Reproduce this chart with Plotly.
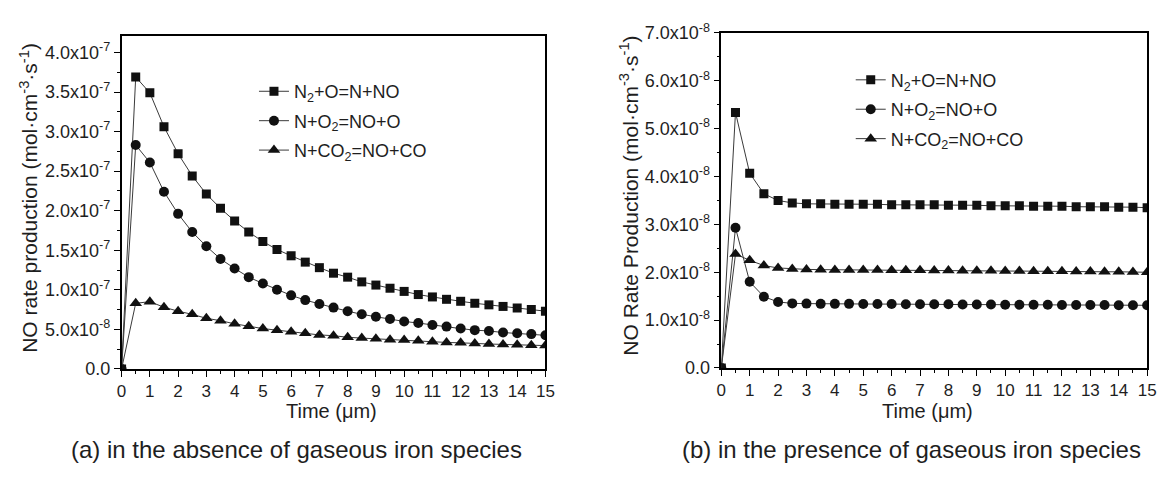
import plotly.graph_objects as go

# ---------------- data ----------------
time_um = [0, 0.5, 1, 1.5, 2, 2.5, 3, 3.5, 4, 4.5, 5, 5.5, 6, 6.5, 7, 7.5,
           8, 8.5, 9, 9.5, 10, 10.5, 11, 11.5, 12, 12.5, 13, 13.5, 14, 14.5, 15]

# (a) absence of gaseous iron species, units 1e-7 mol cm^-3 s^-1
a_n2_o = [0, 3.69, 3.49, 3.06, 2.72, 2.44, 2.21, 2.03, 1.87, 1.73, 1.61, 1.51,
          1.43, 1.35, 1.28, 1.21, 1.16, 1.10, 1.06, 1.02, 0.98, 0.94, 0.91,
          0.88, 0.855, 0.83, 0.81, 0.79, 0.77, 0.75, 0.73]
a_n_o2 = [0, 2.83, 2.61, 2.24, 1.96, 1.73, 1.55, 1.39, 1.27, 1.16, 1.08, 1.00,
          0.93, 0.87, 0.82, 0.775, 0.73, 0.69, 0.66, 0.63, 0.60, 0.58, 0.555,
          0.535, 0.51, 0.49, 0.48, 0.46, 0.45, 0.44, 0.425]
a_n_co2 = [0, 0.83, 0.85, 0.78, 0.73, 0.69, 0.64, 0.61, 0.57, 0.54, 0.51, 0.49,
           0.47, 0.45, 0.43, 0.42, 0.40, 0.39, 0.38, 0.37, 0.365, 0.355, 0.345,
           0.335, 0.33, 0.32, 0.315, 0.31, 0.305, 0.30, 0.295]

# (b) presence of gaseous iron species, units 1e-8 mol cm^-3 s^-1
b_n2_o = [0, 5.34, 4.07, 3.64, 3.50, 3.45, 3.43, 3.43, 3.42, 3.42, 3.42, 3.42,
          3.41, 3.41, 3.41, 3.41, 3.40, 3.40, 3.40, 3.39, 3.39, 3.39, 3.38,
          3.38, 3.38, 3.37, 3.37, 3.37, 3.36, 3.36, 3.35]
b_n_o2 = [0, 2.93, 1.80, 1.49, 1.38, 1.35, 1.345, 1.34, 1.34, 1.34, 1.335,
          1.335, 1.335, 1.33, 1.33, 1.33, 1.33, 1.325, 1.325, 1.325, 1.32,
          1.32, 1.32, 1.32, 1.315, 1.315, 1.315, 1.315, 1.31, 1.31, 1.31]
b_n_co2 = [0, 2.38, 2.25, 2.14, 2.09, 2.07, 2.06, 2.055, 2.05, 2.05, 2.045,
           2.045, 2.04, 2.04, 2.04, 2.035, 2.035, 2.03, 2.03, 2.03, 2.025,
           2.025, 2.02, 2.02, 2.02, 2.015, 2.015, 2.01, 2.01, 2.005, 2.00]

series_names = ["N<sub>2</sub>+O=N+NO", "N+O<sub>2</sub>=NO+O",
                "N+CO<sub>2</sub>=NO+CO"]
symbols = ["square", "circle", "triangle-up"]
symbol_sizes = [9, 10, 11]

a_ticks = [0, 0.5e-7, 1.0e-7, 1.5e-7, 2.0e-7, 2.5e-7, 3.0e-7, 3.5e-7, 4.0e-7]
a_ticktext = ["0.0", "5.0x10<sup>-8</sup>", "1.0x10<sup>-7</sup>",
              "1.5x10<sup>-7</sup>", "2.0x10<sup>-7</sup>",
              "2.5x10<sup>-7</sup>", "3.0x10<sup>-7</sup>",
              "3.5x10<sup>-7</sup>", "4.0x10<sup>-7</sup>"]
b_ticks = [0, 1e-8, 2e-8, 3e-8, 4e-8, 5e-8, 6e-8, 7e-8]
b_ticktext = ["0.0", "1.0x10<sup>-8</sup>", "2.0x10<sup>-8</sup>",
              "3.0x10<sup>-8</sup>", "4.0x10<sup>-8</sup>",
              "5.0x10<sup>-8</sup>", "6.0x10<sup>-8</sup>",
              "7.0x10<sup>-8</sup>"]
x_ticks = list(range(0, 16))

W, H = 1167, 482
FONT = "Liberation Sans, Arial, sans-serif"
TXT = "#1e1e1e"

fig = go.Figure()

for i, (name, vals, sym, sz) in enumerate(zip(series_names,
                                              [a_n2_o, a_n_o2, a_n_co2],
                                              symbols, symbol_sizes)):
    fig.add_trace(go.Scatter(
        x=time_um, y=[v * 1e-7 for v in vals], name=name, mode="lines+markers",
        line=dict(color="#3a3a3a", width=1),
        marker=dict(symbol=sym, size=sz, color="#111111"),
        legendgroup=f"a{i}",
        xaxis="x", yaxis="y", legend="legend"))

for i, (name, vals, sym, sz) in enumerate(zip(series_names,
                                              [b_n2_o, b_n_o2, b_n_co2],
                                              symbols, symbol_sizes)):
    fig.add_trace(go.Scatter(
        x=time_um, y=[v * 1e-8 for v in vals], name=name, mode="lines+markers",
        line=dict(color="#3a3a3a", width=1),
        marker=dict(symbol=sym, size=sz, color="#111111"),
        legendgroup=f"b{i}",
        xaxis="x2", yaxis="y2", legend="legend2"))


def px(x):
    return x / W


def py(y):
    return (H - y) / H


axis_common = dict(showline=True, linecolor="black", linewidth=1.5,
                   mirror=True, showgrid=False, zeroline=False,
                   ticks="outside", ticklen=6, tickwidth=1.2,
                   tickcolor="black",
                   tickfont=dict(family=FONT, size=18, color=TXT))

xa = dict(axis_common, range=[0, 15], tickvals=x_ticks,
          tickfont=dict(family=FONT, size=17, color=TXT),
          minor=dict(ticks="outside", ticklen=3, dtick=0.5, tickwidth=1.2,
                     tickcolor="black"))

legend_common = dict(xanchor="left", yanchor="top", bgcolor="rgba(0,0,0,0)",
                     tracegroupgap=3,
                     font=dict(family=FONT, size=18, color=TXT))

fig.update_layout(
    width=W, height=H,
    margin=dict(l=0, r=0, t=0, b=0),
    paper_bgcolor="white", plot_bgcolor="white",
    font=dict(family=FONT, color=TXT),
    xaxis=dict(xa, domain=[px(118), px(547)], anchor="y"),
    yaxis=dict(axis_common, domain=[py(374), py(25)], anchor="x",
               range=[0, 4.21e-7], tickvals=a_ticks, ticktext=a_ticktext,
               minor=dict(ticks="outside", ticklen=3, dtick=0.25e-7,
                          tickwidth=1.2, tickcolor="black")),
    xaxis2=dict(xa, domain=[px(725), px(1156)], anchor="y2"),
    yaxis2=dict(axis_common, domain=[py(373), py(22)], anchor="x2",
                range=[0, 7e-8], tickvals=b_ticks, ticktext=b_ticktext,
                minor=dict(ticks="outside", ticklen=3, dtick=0.5e-8,
                           tickwidth=1.2, tickcolor="black")),
    legend=dict(legend_common, x=px(252), y=py(64)),
    legend2=dict(legend_common, x=px(856), y=py(52)),
    showlegend=True,
)

annots = [
    dict(text="Time (\u03bcm)", x=px(330), y=py(418), size=20, angle=0),
    dict(text="Time (\u03bcm)", x=px(934), y=py(418), size=20, angle=0),
    dict(text="NO rate production (mol\u00b7cm<sup>-3</sup>\u00b7s<sup>-1</sup>)",
         x=px(24), y=py(195), size=21, angle=-90),
    dict(text="NO Rate Production (mol\u00b7cm<sup>-3</sup>\u00b7s<sup>-1</sup>)",
         x=px(632), y=py(192), size=21, angle=-90),
    dict(text="(a) in the absence of gaseous iron species",
         x=px(295), y=py(458), size=24, angle=0),
    dict(text="(b) in the presence of gaseous iron species",
         x=px(918), y=py(458), size=24, angle=0),
]
for a in annots:
    fig.add_annotation(xref="paper", yref="paper", showarrow=False,
                       xanchor="center", yanchor="middle",
                       text=a["text"], x=a["x"], y=a["y"],
                       textangle=a["angle"],
                       font=dict(family=FONT, size=a["size"], color=TXT))

fig.write_html("out.html")
